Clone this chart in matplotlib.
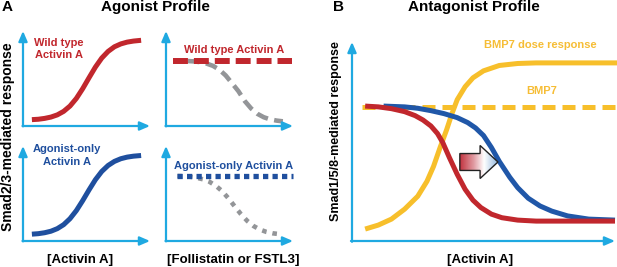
import matplotlib
matplotlib.use('Agg')
import matplotlib.pyplot as plt
from matplotlib.patches import FancyArrow
from matplotlib.colors import LinearSegmentedColormap
import numpy as np

plt.rcParams['font.family'] = ['Liberation Sans', 'DejaVu Sans']

# ---------------- data (arbitrary units 0-10) ----------------
# Panel A, top-left: wild type Activin A dose response
wt_dose = [0.7, 1.2, 1.7, 2.2, 2.7, 3.2, 3.7, 4.2, 4.7, 5.2, 5.7, 6.2, 6.7, 7.2, 7.7, 8.2, 8.7, 9.3]
wt_resp = [0.67, 0.71, 0.80, 0.94, 1.17, 1.54, 2.10, 2.90, 3.93, 5.08, 6.20, 7.15, 7.85, 8.34, 8.64, 8.83, 8.94, 9.02]
# Panel A, bottom-left: agonist-only Activin A dose response
ag_dose = [0.7, 1.2, 1.7, 2.2, 2.7, 3.2, 3.7, 4.2, 4.7, 5.2, 5.7, 6.2, 6.7, 7.2, 7.7, 8.2, 8.7, 9.3]
ag_resp = [0.72, 0.77, 0.87, 1.03, 1.30, 1.72, 2.35, 3.20, 4.25, 5.38, 6.45, 7.32, 7.95, 8.38, 8.66, 8.83, 8.93, 9.00]
# Panel A, top-right: wild type level + inhibitor (dashed grey)
wt_level = 6.84
wt_level_range = [0.55, 9.9]
fs_dose_wt = [1.7, 2.2, 2.7, 3.2, 3.7, 4.2, 4.7, 5.2, 5.7, 6.2, 6.7, 7.2, 7.7, 8.2, 8.7, 9.2]
fs_resp_wt = [6.84, 6.80, 6.72, 6.57, 6.33, 5.93, 5.32, 4.50, 3.67, 2.63, 1.85, 1.28, 0.92, 0.70, 0.57, 0.49]
# Panel A, bottom-right: agonist-only level + inhibitor (dotted grey)
ag_level = 6.84
ag_level_range = [0.87, 10.0]
fs_dose_ag = [0.9, 1.4, 1.9, 2.4, 2.9, 3.4, 3.9, 4.4, 4.9, 5.4, 5.9, 6.4, 6.9, 7.4, 7.9, 8.4, 9.1]
fs_resp_ag = [6.85, 6.82, 6.76, 6.66, 6.50, 6.25, 5.84, 5.27, 4.52, 3.66, 2.83, 2.11, 1.57, 1.20, 0.96, 0.81, 0.70]

# Panel B: BMP7 dose response (yellow)
bmp_dose = [0.5, 1.0, 1.5, 2.0, 2.5, 2.85, 3.1, 3.35, 3.6, 3.8, 4.0, 4.3, 4.6, 5.0, 5.6, 6.3, 7.0, 8.0, 10.1]
bmp_resp = [0.6, 0.8, 1.1, 1.6, 2.25, 3.0, 3.75, 4.7, 5.6, 6.4, 7.1, 7.75, 8.2, 8.55, 8.82, 8.92, 8.95, 8.95, 8.95]
bmp7_level = 6.73
bmp7_range = [0.38, 10.1]
# Panel B: Activin A antagonism, wild type (red) and shifted (blue)
red_dose = [0.5, 1.0, 1.5, 2.0, 2.4, 2.7, 3.0, 3.25, 3.45, 3.7, 4.0, 4.3, 4.6, 4.9, 5.3, 5.7, 6.3, 7.0, 10.0]
red_resp = [6.78, 6.74, 6.65, 6.50, 6.30, 6.08, 5.78, 5.40, 4.95, 4.20, 3.35, 2.60, 2.05, 1.68, 1.35, 1.17, 1.05, 1.0, 1.0]
blue_dose = [1.2, 2.0, 2.5, 3.0, 3.5, 4.0, 4.4, 4.7, 5.0, 5.3, 5.6, 6.0, 6.3, 6.7, 7.15, 7.6, 8.2, 9.0, 10.0]
blue_resp = [6.78, 6.74, 6.67, 6.55, 6.40, 6.20, 5.95, 5.68, 5.30, 4.70, 4.00, 3.20, 2.68, 2.15, 1.76, 1.50, 1.26, 1.10, 1.05]

# shift arrow (panel B data units)
shift_x0, shift_x1, shift_y = 4.1, 5.55, 3.97

# ---------------- styling ----------------
CYAN = '#1fa9e1'
RED = '#c1272d'
BLUE_A = '#1f4f9e'
BLUE_B = '#2057a8'
YELLOW = '#f7bf2b'
GREY = '#939598'
YTXT = '#f6bd35'

W, H = 617, 267
fig = plt.figure(figsize=(W / 100, H / 100), dpi=100)


def rect(x0, x1, ytop, ybot):
    return [x0 / W, 1 - ybot / H, (x1 - x0) / W, (ybot - ytop) / H]


def setup(ax):
    ax.set_xlim(0, 10)
    ax.set_ylim(0, 10)
    ax.axis('off')
    ap = dict(arrowstyle='-|>,head_length=0.6,head_width=0.26', color=CYAN,
              lw=1.6, shrinkA=0, shrinkB=0, mutation_scale=10)
    ax.annotate('', xy=(0, 1), xytext=(0, -0.004), xycoords='axes fraction', arrowprops=ap)
    ax.annotate('', xy=(1, 0), xytext=(-0.004, 0), xycoords='axes fraction', arrowprops=ap)


def T(x, y, s, **kw):
    kw.setdefault('ha', 'center')
    kw.setdefault('va', 'center')
    kw.setdefault('fontweight', 'bold')
    fig.text(x / W, 1 - y / H, s, **kw)


lw_curve = 3.6

# Top-left
ax1 = fig.add_axes(rect(23, 150, 31, 126))
setup(ax1)
ax1.plot(wt_dose, wt_resp, color=RED, lw=lw_curve, solid_capstyle='butt', clip_on=False)

# Top-right
ax2 = fig.add_axes(rect(166, 293, 31, 126))
setup(ax2)
ax2.plot(fs_dose_wt, fs_resp_wt, color=GREY, lw=3.3, linestyle=(0, (2.6, 1.4)),
         dash_capstyle='butt', clip_on=False)
ax2.plot(wt_level_range, [wt_level, wt_level], color=RED, lw=4.3, linestyle=(0, (2.5, 1.0)),
         dash_capstyle='butt', clip_on=False)

# Bottom-left
ax3 = fig.add_axes(rect(23, 150, 146, 241))
setup(ax3)
ax3.plot(ag_dose, ag_resp, color=BLUE_A, lw=lw_curve, solid_capstyle='butt', clip_on=False)

# Bottom-right
ax4 = fig.add_axes(rect(166, 293, 146, 241))
setup(ax4)
ax4.plot(fs_dose_ag, fs_resp_ag, color=GREY, lw=3.3, linestyle=(0, (1.0, 1.3)),
         dash_capstyle='butt', clip_on=False)
ax4.plot(ag_level_range, [ag_level, ag_level], color=BLUE_A, lw=3.8, linestyle=(0, (1.0, 0.8)),
         dash_capstyle='butt', clip_on=False)

# Panel B
ax5 = fig.add_axes(rect(352, 615, 42, 241))
setup(ax5)
ax5.plot(bmp7_range, [bmp7_level, bmp7_level], color=YELLOW, lw=3.6, linestyle=(0, (2.6, 1.4)),
         dash_capstyle='butt', clip_on=False)
ax5.plot(bmp_dose, bmp_resp, color=YELLOW, lw=lw_curve, solid_capstyle='butt', clip_on=False)
ax5.plot(blue_dose, blue_resp, color=BLUE_B, lw=lw_curve, solid_capstyle='butt', clip_on=False)
ax5.plot(red_dose, red_resp, color=RED, lw=lw_curve, solid_capstyle='butt', clip_on=False)

# gradient block arrow
arr = FancyArrow(shift_x0, shift_y, shift_x1 - shift_x0, 0, width=0.85, head_width=1.66,
                 head_length=0.68, length_includes_head=True, facecolor='none',
                 edgecolor='#222222', lw=1.0, zorder=6)
ax5.add_patch(arr)
cmap = LinearSegmentedColormap.from_list('g', [(0, '#c23440'), (0.35, '#e09aa1'),
                                               (0.62, '#ffffff'), (1.0, '#8db4dc')])
grad = np.linspace(0, 1, 256).reshape(1, -1)
im = ax5.imshow(grad, extent=[shift_x0, shift_x1, shift_y - 0.85, shift_y + 0.85],
                cmap=cmap, aspect='auto', zorder=5, interpolation='bilinear')
im.set_clip_path(arr)
ax5.set_xlim(0, 10)
ax5.set_ylim(0, 10)

# ---------------- texts ----------------
T(7, 7, 'A', fontsize=11)
T(155, 7, 'Agonist Profile', fontsize=11)
T(338, 7, 'B', fontsize=11)
T(474, 7, 'Antagonist Profile', fontsize=11)

T(59, 49, 'Wild type\nActivin A', fontsize=8, color=RED, linespacing=1.3)
T(234, 50, 'Wild type Activin A', fontsize=8, color=RED)
T(67, 155.5, 'Agonist-only\nActivin A', fontsize=8, color=BLUE_A, linespacing=1.3)
T(234, 166, 'Agonist-only Activin A', fontsize=8, color=BLUE_A)

T(80, 260, '[Activin A]', fontsize=9.5)
T(233, 260, '[Follistatin or FSTL3]', fontsize=9.5)
T(480, 260, '[Activin A]', fontsize=9.5)

T(8, 137, 'Smad2/3-mediated response', fontsize=10, rotation=90)
T(336, 131, 'Smad1/5/8-mediated response', fontsize=9, rotation=90)

T(540, 45, 'BMP7 dose response', fontsize=8, color=YTXT)
T(542, 91, 'BMP7', fontsize=8, color=YTXT)

fig.savefig('out.png', dpi=100)
